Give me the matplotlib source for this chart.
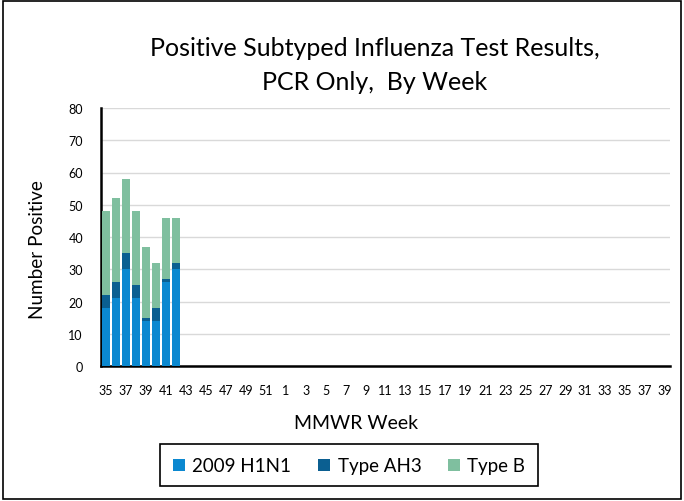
import numpy as np
import matplotlib
matplotlib.use("Agg")
import matplotlib.pyplot as plt
from matplotlib.patches import Rectangle

# weeks 35-52 then 1-39
weeks = list(range(35, 53)) + list(range(1, 40))
h1n1 = [18, 21, 30, 21, 14, 14, 26, 30]
ah3 = [4, 5, 5, 4, 1, 4, 1, 2]
type_b = [26, 26, 23, 23, 22, 14, 19, 14]

COLORS = ["#0b88d0", "#0b5f91", "#7fbf9f"]
W, H = 684, 502

plt.rcParams['font.family'] = ['Lato', 'DejaVu Sans']

fig = plt.figure(figsize=(W / 100, H / 100), dpi=100)
fig.patches.append(Rectangle((0.004, 0.004), 0.992, 0.992, transform=fig.transFigure,
                             fill=False, edgecolor="black", linewidth=1.2))
ax = fig.add_axes([101 / W, 1 - 367 / H, 569 / W, 258 / H])

n = len(weeks)
x = np.arange(n)
pad = lambda v: np.array(v + [0] * (n - len(v)))
a, b, c = pad(h1n1), pad(ah3), pad(type_b)

ax.bar(x, a, width=0.8, color=COLORS[0], label="2009 H1N1", zorder=3)
ax.bar(x, b, width=0.8, bottom=a, color=COLORS[1], label="Type AH3", zorder=3)
ax.bar(x, c, width=0.8, bottom=a + b, color=COLORS[2], label="Type B", zorder=3)

ax.set_xlim(-0.5, n - 0.5)
ax.set_ylim(0, 80)
ax.set_yticks(range(0, 81, 10))
ax.set_xticks(x[::2])
ax.set_xticklabels([str(w) for w in weeks[::2]])
ax.tick_params(axis="both", length=0, labelsize=9)
ax.tick_params(axis="x", pad=13)
ax.tick_params(axis="y", pad=13)
ax.yaxis.grid(True, color="#d9d9d9", linewidth=1, zorder=0)
for s in ["top", "right"]:
    ax.spines[s].set_visible(False)
ax.spines["left"].set_linewidth(1.8)
ax.spines["bottom"].set_linewidth(1.8)

# axis titles
fig.text(356 / W, 1 - 429 / H, "MMWR Week", ha="center", va="baseline", fontsize=14)
fig.text(37.5 / W, 1 - 249.5 / H, "Number Positive", ha="center", va="center",
         rotation=90, fontsize=13.6)

# chart title
fig.text(375 / W, 1 - 55.5 / H, "Positive Subtyped Influenza Test Results,", ha="center",
         va="baseline", fontsize=18)
fig.text(375 / W, 1 - 90 / H, "PCR Only,  By Week", ha="center", va="baseline",
         fontsize=18)

# legend with its own box
fig.patches.append(Rectangle((160 / W, 1 - 487 / H), 378 / W, 42 / H,
                             transform=fig.transFigure, fill=False,
                             edgecolor="black", linewidth=1.2))
fig.legend(loc="center", bbox_to_anchor=(349 / W, 1 - 467 / H), ncol=3, fontsize=13.5,
           frameon=False, handlelength=0.67, handleheight=0.67, handletextpad=0.39,
           columnspacing=1.4, borderpad=0)

fig.savefig("out.png", dpi=100)
